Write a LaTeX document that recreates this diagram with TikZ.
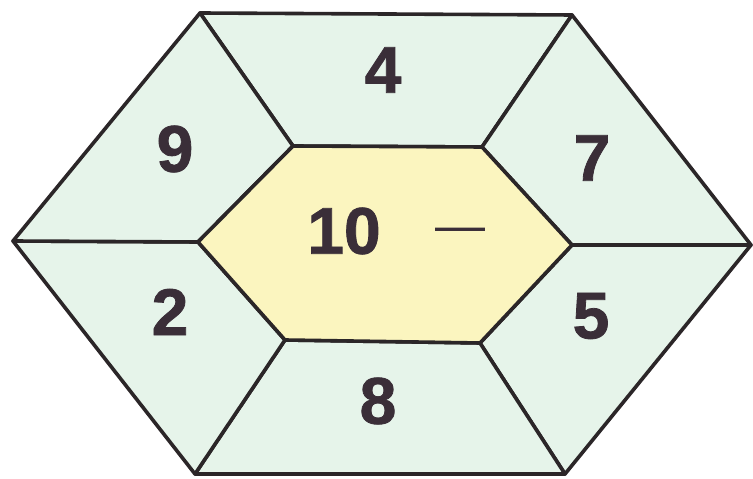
\documentclass[tikz,border=0pt]{standalone}
\usepackage{fontspec}
\setmainfont{Liberation Sans}
\newfontfamily\heavyfont[FakeBold=1.2]{Liberation Sans Bold}
\definecolor{cellgreen}{HTML}{E6F4EA}
\definecolor{coreyellow}{HTML}{FBF5BF}
\definecolor{edge}{HTML}{2B2628}
\definecolor{digit}{HTML}{3A2E38}
\tikzset{
  cell/.style={fill=cellgreen, draw=edge, line width=3.6pt, line join=round},
  core/.style={fill=coreyellow, draw=edge, line width=3.6pt, line join=round},
  num/.style={text=digit, font=\fontsize{66}{66}\heavyfont, inner sep=0pt},
  dashmark/.style={text=digit, font=\fontsize{50}{50}\selectfont, inner sep=0pt}
}
\begin{document}
\begin{tikzpicture}[x=1pt,y=1pt]
\useasboundingbox (0,0) rectangle (753,479);
% outer vertices
\coordinate (OTL) at (200,466);
\coordinate (OTR) at (572,464);
\coordinate (OR)  at (751,234);
\coordinate (OBR) at (565,5);
\coordinate (OBL) at (195,5);
\coordinate (OL)  at (13,238);
% inner vertices
\coordinate (ITL) at (293,333);
\coordinate (ITR) at (482,332);
\coordinate (IR)  at (572,234);
\coordinate (IBR) at (480,136);
\coordinate (IBL) at (285,139);
\coordinate (IL)  at (198,237);
% cells
\draw[cell] (OTL) -- (OTR) -- (ITR) -- (ITL) -- cycle;
\draw[cell] (OTR) -- (OR) -- (IR) -- (ITR) -- cycle;
\draw[cell] (OR) -- (OBR) -- (IBR) -- (IR) -- cycle;
\draw[cell] (OBR) -- (OBL) -- (IBL) -- (IBR) -- cycle;
\draw[cell] (OBL) -- (OL) -- (IL) -- (IBL) -- cycle;
\draw[cell] (OL) -- (OTL) -- (ITL) -- (IL) -- cycle;
\draw[core] (ITL) -- (ITR) -- (IR) -- (IBR) -- (IBL) -- (IL) -- cycle;
% numbers
\node[num] (n4) at (383,409) {4};
\node[num] (n9) at (175,330) {9};
\node[num] (n7) at (592,321) {7};
\node[num] (n2) at (170,167) {2};
\node[num] (n5) at (591,163) {5};
\node[num] (n8) at (378,78) {8};
\node[num] (n10) at (344,248) {10};
\node[dashmark] (dash) at (460,244) {—};
\end{tikzpicture}
\end{document}
